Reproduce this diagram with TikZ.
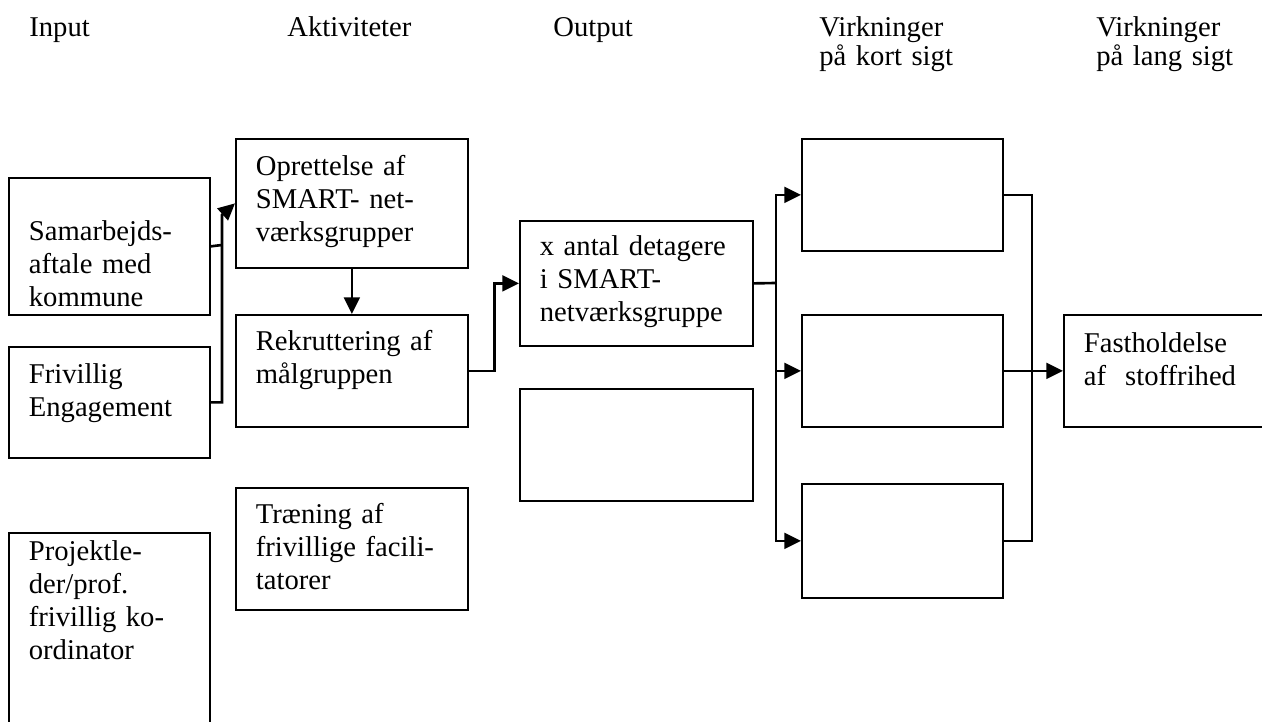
\documentclass[tikz,border=0pt]{standalone}
\usepackage{fontspec}
\setmainfont{Liberation Serif}
\usetikzlibrary{arrows.meta}

\begin{document}
\begin{tikzpicture}[x=0.02cm, y=-0.02cm,
    hd/.style={font=\fontsize{16.3pt}{14.8pt}\selectfont, align=left,
               text width=4cm, anchor=base west, inner sep=0pt},
    box/.style={draw, line width=1pt, anchor=north west, align=left,
                inner xsep=0.4cm, inner ysep=0pt,
                font=\fontsize{16.3pt}{18.8pt}\selectfont},
    line/.style={line width=1.5pt},
    arr/.style={line, -{Triangle[length=9.5pt,width=9pt]}}]

  \useasboundingbox (0,0) rectangle (1262,722);
  \clip (0,0) rectangle (1262,722);

  % column headings
  \node[hd] (hIn)  at (29,37)   {Input};
  \node[hd] (hAkt) at (287,37)  {Aktiviteter};
  \node[hd] (hOut) at (553,37)  {Output};
  \node[hd] (hKort) at (819,37) {Virkninger\\på kort sigt};
  \node[hd] (hLang) at (1096,37) {Virkninger\\på lang sigt};

  % boxes: name / left / top / right / bottom / first baseline / text
  \foreach \name/\xa/\ya/\xb/\yb/\off/\txt in {%
    sam/8/177/209/314/63/{Samarbejds-\\aftale med\\kommune},
    fri/8/346/209/457/37/{Frivillig\\Engagement},
    proj/8/532/209/745/28/{Projektle-\\der/prof.\\frivillig ko-\\ordinator},
    op/235/138/467/267/37/{Oprettelse af\\SMART- net-\\værksgrupper},
    rek/235/314/467/426/36/{Rekruttering af\\målgruppen},
    trae/235/487/467/609/36/{Træning af\\frivillige facili-\\tatorer},
    xan/519/220/752/345/35/{x antal detagere\\i SMART-\\netværksgruppe},
    emp/519/388/752/500/36/{},
    ka/801/138/1002/250/36/{},
    kb/801/314/1002/426/36/{},
    kc/801/483/1002/597/36/{},
    fast/1063/314/1290/426/38/{Fastholdelse\\af~~stoffrihed}}
  {
    \pgfmathsetmacro\bw{(\xb-\xa)*0.569055-22.762}
    \pgfmathsetmacro\bh{\off*0.569055}
    \pgfmathsetmacro\bd{(\yb-\ya-\off)*0.569055}
    \node[box, text width=\bw pt, text height=\bh pt, text depth=\bd pt]
      (\name) at (\xa,\ya) {\txt};
  }

  % input to activities
  \coordinate (inJ) at (222,245);
  \coordinate (inK) at (222,215);
  \draw[line] (sam.east) -- (inJ);
  \draw[arr] (fri.east) -| (inK) -- (op.west);
  \draw[arr] (op) -- (rek);
  \draw[arr] (rek.east) -- ++(26,0) |- (xan.west);

  % output to short-term effects
  \coordinate (outJ) at (776,283);
  \draw[line] (xan.east) -- (outJ);
  \draw[arr] (outJ) |- (ka.west);
  \draw[arr] (outJ) |- (kb.west);
  \draw[arr] (outJ) |- (kc.west);

  % short-term to long-term effects
  \coordinate (effJ) at (1032,370);
  \draw[line] (ka.east) -| (effJ) |- (kc.east);
  \draw[arr] (kb.east) -- (fast.west);
\end{tikzpicture}
\end{document}
